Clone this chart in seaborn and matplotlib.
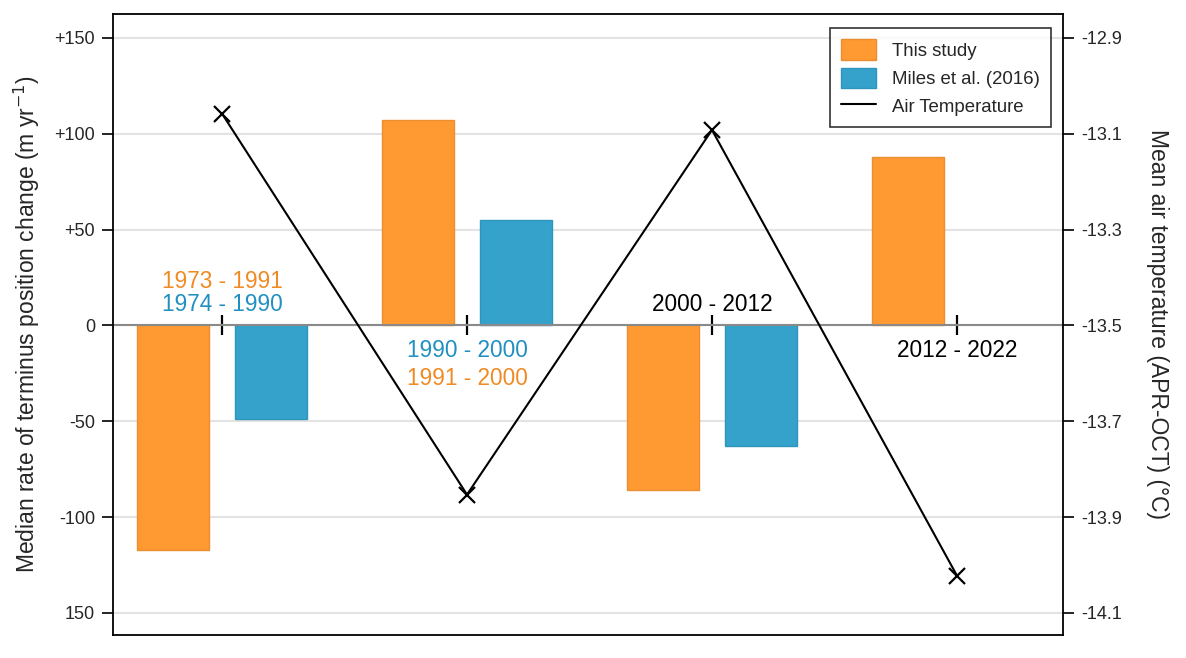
import numpy as np
import pandas as pd
import matplotlib
matplotlib.use("Agg")
import matplotlib.pyplot as plt
import matplotlib.colors as mcolors
from matplotlib.patches import Patch
from matplotlib.lines import Line2D
import seaborn as sns

# ---------------- data ----------------
periods = ["P1", "P2", "P3", "P4"]
this_study = [-117, 107, -86, 88]
miles_2016 = [-49, 55, -63, np.nan]
air_temp = [-13.058, -13.853, -13.092, -14.022]

# period labels (text, colour key, y-offset in m/yr)
label_lines = [
    [("1973 - 1991", "this", 23), ("1974 - 1990", "miles", 11)],
    [("1990 - 2000", "miles", -13), ("1991 - 2000", "this", -27.5)],
    [("2000 - 2012", "both", 11)],
    [("2012 - 2022", "both", -13)],
]

left_ticks = [-150, -100, -50, 0, 50, 100, 150]
left_ticklabels = ["150", "-100", "-50", "0", "+50", "+100", "+150"]
right_ticks = [-14.1, -13.9, -13.7, -13.5, -13.3, -13.1, -12.9]

series_names = ["This study", "Miles et al. (2016)"]
colors = {"This study": "#FF9A33", "Miles et al. (2016)": "#35A2CB"}
text_colors = {"this": "#F08A24", "miles": "#1F90C0", "both": "black"}

df = pd.DataFrame({
    "period": periods * 2,
    "source": [series_names[0]] * 4 + [series_names[1]] * 4,
    "rate": this_study + miles_2016,
})

# ---------------- plot ----------------
sns.set_theme(style="white")
plt.rcParams["font.family"] = ["Liberation Sans", "DejaVu Sans"]

fig = plt.figure(figsize=(11.86, 6.58), dpi=100)
ax = fig.add_axes([0.0953, 0.035, 0.801, 0.9437])

sns.barplot(data=df, x="period", y="rate", hue="source", order=periods,
            hue_order=series_names, palette=colors, saturation=1,
            width=0.8, gap=0.265, dodge=True, ax=ax, legend=False, zorder=2)

for p in ax.patches:
    fc = mcolors.to_rgb(p.get_facecolor())
    p.set_edgecolor(tuple(c * 0.92 for c in fc))
    p.set_linewidth(1.0)

ylo, yhi = -161.5, 162.5
ax.set_ylim(ylo, yhi)
ax.set_xlim(-0.445, 3.433)
ax.set_yticks(left_ticks)
ax.set_yticklabels(left_ticklabels)
ax.yaxis.grid(True, color="#e3e3e3", linewidth=1.5, zorder=0)
ax.set_axisbelow(True)
ax.tick_params(axis="y", which="both", direction="out", length=8, width=1.2,
               color="black", labelsize=13, left=True, pad=5)
ax.set_ylabel("Median rate of terminus position change (m yr$^{-1}$)", fontsize=16.5, labelpad=9)
ax.set_xlabel("")

# x-axis spine moved to zero, ticks straddling it
ax.spines["bottom"].set_position(("data", 0))
ax.spines["bottom"].set_color("#8a8a8a")
ax.spines["bottom"].set_linewidth(1.5)
ax.spines["bottom"].set_zorder(3)
ax.set_xticks(range(len(periods)))
ax.set_xticklabels([""] * len(periods))
ax.tick_params(axis="x", direction="inout", length=14, width=1.6, color="black", bottom=True)
for s in ["top", "left", "right"]:
    ax.spines[s].set_visible(False)

# period labels
for i, lines in enumerate(label_lines):
    for txt, key, yoff in lines:
        ax.text(i, yoff, txt, ha="center", va="center", fontsize=16.3,
                color=text_colors[key], zorder=5)

# secondary axis: air temperature
ax2 = ax.twinx()
sns.lineplot(x=np.arange(len(periods)), y=air_temp, ax=ax2, color="black",
             linewidth=1.5, marker="x", markersize=11, markeredgewidth=1.6,
             markeredgecolor="black", zorder=4)
ax2.set_ylim(-13.5 + ylo * 0.004, -13.5 + yhi * 0.004)
ax2.set_yticks(right_ticks)
ax2.set_yticklabels([f"{t:.1f}" for t in right_ticks])
ax2.tick_params(axis="y", direction="out", length=8, width=1.2, color="black",
                labelsize=13, right=True, pad=5)
ax2.set_ylabel("Mean air temperature (APR-OCT) (°C)", fontsize=16.5, rotation=270, labelpad=34)
for s in ["top", "left", "right", "bottom"]:
    ax2.spines[s].set_visible(True)
    ax2.spines[s].set_color("black")
    ax2.spines[s].set_linewidth(1.3)

handles = [
    Patch(facecolor=colors[series_names[0]], edgecolor="#EB8D2F", label=series_names[0]),
    Patch(facecolor=colors[series_names[1]], edgecolor="#2F95BD", label=series_names[1]),
    Line2D([0], [0], color="black", linewidth=1.5, label="Air Temperature"),
]
leg = ax2.legend(handles=handles, loc="upper right", bbox_to_anchor=(0.987, 0.977),
                 fontsize=13.4, frameon=True, fancybox=False, edgecolor="black",
                 handlelength=1.85, handleheight=1.3, borderpad=0.6, labelspacing=0.42,
                 handletextpad=0.85, borderaxespad=0)
leg.get_frame().set_linewidth(1.2)

fig.savefig("out.png", dpi=100)
